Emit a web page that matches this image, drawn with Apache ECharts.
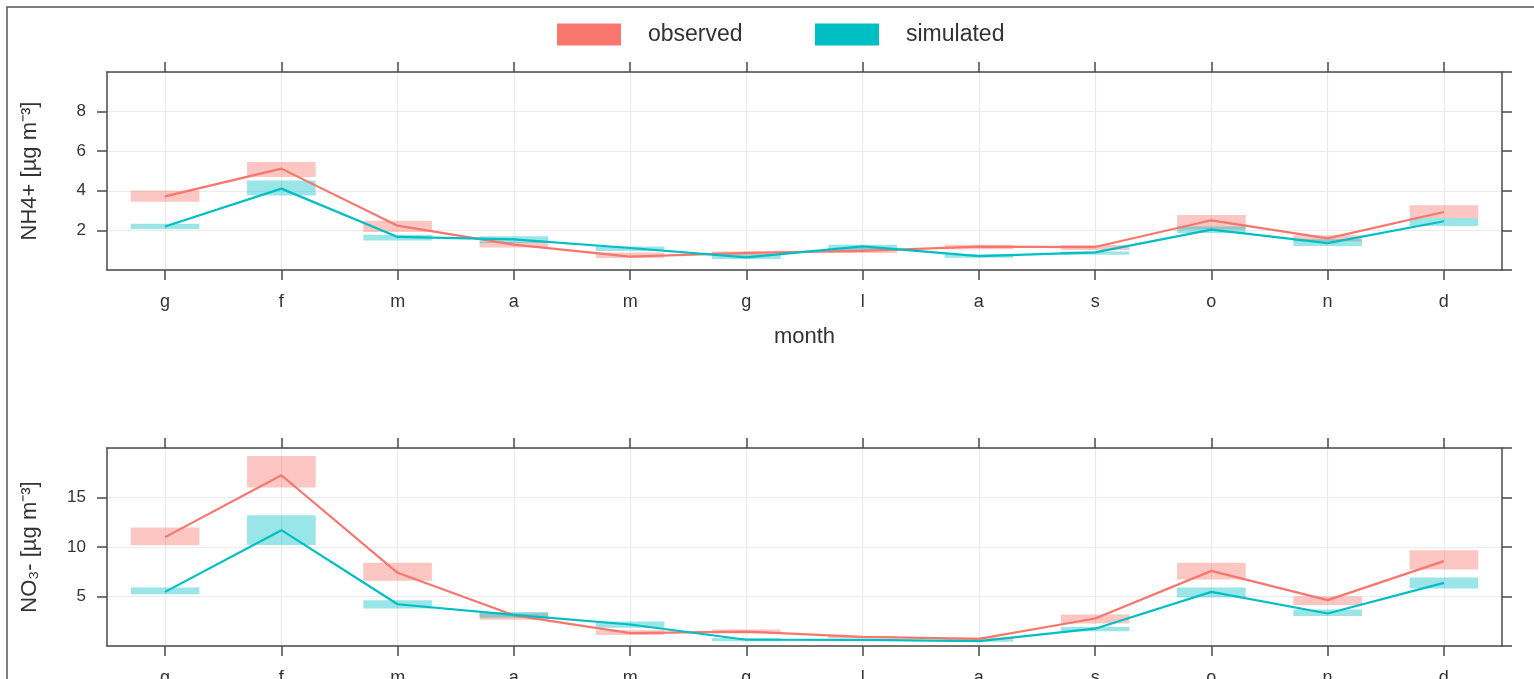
<!DOCTYPE html>
<html>
<head>
<meta charset="utf-8">
<script src="https://cdn.jsdelivr.net/npm/echarts@6/dist/echarts.min.js"></script>
<style>
html, body { margin: 0; padding: 0; background: #fff; }
#chart { width: 1534px; height: 679px; }
</style>
</head>
<body>
<div id="chart"></div>
<script>
var months = ['g', 'f', 'm', 'a', 'm', 'g', 'l', 'a', 's', 'o', 'n', 'd'];

// NH4+ panel
var nh4Obs     = [3.72, 5.12, 2.24, 1.28, 0.68, 0.86, 0.97, 1.18, 1.16, 2.51, 1.60, 2.93];
var nh4ObsLow  = [3.45, 4.70, 1.92, 1.14, 0.60, 0.73, 0.86, 1.05, 1.01, 2.04, 1.45, 2.63];
var nh4ObsHigh = [4.01, 5.46, 2.49, 1.42, 0.88, 0.94, 1.11, 1.28, 1.26, 2.78, 1.75, 3.27];
var nh4Sim     = [2.20, 4.11, 1.67, 1.55, 1.11, 0.64, 1.19, 0.70, 0.89, 2.04, 1.36, 2.46];
var nh4SimLow  = [2.07, 3.76, 1.49, 1.36, 0.96, 0.56, 0.96, 0.62, 0.77, 1.87, 1.21, 2.22];
var nh4SimHigh = [2.34, 4.52, 1.78, 1.70, 1.19, 0.80, 1.28, 0.80, 0.94, 2.20, 1.55, 2.62];

// NO3- panel
var no3Obs     = [11.0, 17.25, 7.39, 3.10, 1.30, 1.45, 0.92, 0.72, 2.78, 7.59, 4.63, 8.57];
var no3ObsLow  = [10.18, 16.0, 6.58, 2.65, 1.12, 1.26, 0.80, 0.60, 2.27, 6.72, 4.12, 7.73];
var no3ObsHigh = [11.97, 19.2, 8.40, 3.30, 1.60, 1.67, 1.02, 0.85, 3.18, 8.40, 5.03, 9.68];
var no3Sim     = [5.47, 11.7, 4.22, 3.15, 2.17, 0.63, 0.62, 0.50, 1.75, 5.47, 3.28, 6.37];
var no3SimLow  = [5.23, 10.2, 3.79, 2.85, 1.85, 0.48, 0.50, 0.42, 1.50, 4.90, 3.04, 5.81];
var no3SimHigh = [5.90, 13.2, 4.63, 3.44, 2.48, 0.80, 0.72, 0.60, 1.93, 5.90, 3.69, 6.92];

var red = '#F8766D', cyan = '#00BFC4';
var redFill = 'rgba(248,118,109,0.42)', cyanFill = 'rgba(0,191,196,0.4)';
var axisCol = '#4a4a4a', textCol = '#333', gridCol = '#ebebeb';
var font = 'Liberation Sans';

var dom = document.getElementById('chart');
var chart = echarts.init(dom);

function ranges(low, high) {
    return months.map(function (m, i) { return [i, low[i], high[i]]; });
}

function rangeBox(fill) {
    return function (params, api) {
        var top = api.coord([api.value(0), api.value(2)]);
        var bot = api.coord([api.value(0), api.value(1)]);
        var w = api.size([1, 0])[0] * 0.59;
        return {
            type: 'rect',
            shape: { x: top[0] - w / 2, y: top[1], width: w, height: bot[1] - top[1] },
            style: { fill: fill }
        };
    };
}

function xAx(grid, pos, labels, name) {
    return {
        type: 'category', gridIndex: grid, position: pos, data: months,
        boundaryGap: true,
        name: name || '', nameLocation: 'middle', nameGap: 56,
        nameTextStyle: { fontSize: 22, color: textCol, fontFamily: font },
        axisLine: { onZero: false, lineStyle: { color: axisCol, width: 1.5 } },
        axisTick: { show: true, alignWithLabel: true, length: 10, lineStyle: { color: axisCol, width: 1.5 } },
        axisLabel: { show: labels, color: textCol, fontSize: 18, fontFamily: font, margin: 23 },
        splitLine: { show: pos === 'bottom', alignWithLabel: true, lineStyle: { color: gridCol, width: 1.2 } }
    };
}

function yAx(grid, pos, max, step, labels, name) {
    return {
        type: 'value', gridIndex: grid, position: pos, min: 0, max: max, interval: step,
        name: name || '', nameLocation: 'middle', nameGap: 66,
        nameTextStyle: { fontSize: 22, color: textCol, fontFamily: font },
        axisLine: { show: true, onZero: false, lineStyle: { color: axisCol, width: 1.5 } },
        axisTick: { show: true, length: 10, lineStyle: { color: axisCol, width: 1.5 } },
        axisLabel: { show: labels, showMinLabel: false, showMaxLabel: false, color: textCol, fontSize: 17, fontFamily: font, margin: 21 },
        splitLine: { show: pos === 'left', lineStyle: { color: gridCol, width: 1.2 } }
    };
}

option = {
    animation: false,
    backgroundColor: '#fff',
    graphic: [{
        type: 'rect', silent: true,
        shape: { x: 7, y: 7, width: 1600, height: 720 },
        style: { fill: null, stroke: '#555', lineWidth: 1.5 }
    }],
    legend: [{
        left: 557, top: 23, padding: 0, itemWidth: 64, itemHeight: 22,
        data: [{ name: 'observed', icon: 'rect', itemStyle: { color: red } }],
        textStyle: { fontSize: 23, color: textCol, fontFamily: font, padding: [0, 0, 0, 22] },
        selectedMode: false
    }, {
        left: 815, top: 23, padding: 0, itemWidth: 64, itemHeight: 22,
        data: [{ name: 'simulated', icon: 'rect', itemStyle: { color: cyan } }],
        textStyle: { fontSize: 23, color: textCol, fontFamily: font, padding: [0, 0, 0, 22] },
        selectedMode: false
    }],
    grid: [
        { left: 107, right: 32, top: 72, height: 198, outerBoundsMode: 'none' },
        { left: 107, right: 32, top: 448, height: 198, outerBoundsMode: 'none' }
    ],
    xAxis: [
        xAx(0, 'bottom', true, 'month'),
        xAx(0, 'top', false),
        xAx(1, 'bottom', true),
        xAx(1, 'top', false)
    ],
    yAxis: [
        yAx(0, 'left', 10, 2, true, 'NH4+ [µg m⁻³]'),
        yAx(0, 'right', 10, 2, false),
        yAx(1, 'left', 20, 5, true, 'NO₃- [µg m⁻³]'),
        yAx(1, 'right', 20, 5, false)
    ],
    series: [
        { name: 'observed', type: 'custom', xAxisIndex: 0, yAxisIndex: 0, renderItem: rangeBox(redFill), encode: { x: 0, y: [1, 2] }, data: ranges(nh4ObsLow, nh4ObsHigh), silent: true },
        { name: 'simulated', type: 'custom', xAxisIndex: 0, yAxisIndex: 0, renderItem: rangeBox(cyanFill), encode: { x: 0, y: [1, 2] }, data: ranges(nh4SimLow, nh4SimHigh), silent: true },
        { name: 'observed', type: 'line', xAxisIndex: 0, yAxisIndex: 0, data: nh4Obs, showSymbol: false, itemStyle: { color: red }, lineStyle: { color: red, width: 2.2 }, silent: true },
        { name: 'simulated', type: 'line', xAxisIndex: 0, yAxisIndex: 0, data: nh4Sim, showSymbol: false, itemStyle: { color: cyan }, lineStyle: { color: cyan, width: 2.2 }, silent: true },

        { name: 'observed', type: 'custom', xAxisIndex: 2, yAxisIndex: 2, renderItem: rangeBox(redFill), encode: { x: 0, y: [1, 2] }, data: ranges(no3ObsLow, no3ObsHigh), silent: true },
        { name: 'simulated', type: 'custom', xAxisIndex: 2, yAxisIndex: 2, renderItem: rangeBox(cyanFill), encode: { x: 0, y: [1, 2] }, data: ranges(no3SimLow, no3SimHigh), silent: true },
        { name: 'observed', type: 'line', xAxisIndex: 2, yAxisIndex: 2, data: no3Obs, showSymbol: false, itemStyle: { color: red }, lineStyle: { color: red, width: 2.2 }, silent: true },
        { name: 'simulated', type: 'line', xAxisIndex: 2, yAxisIndex: 2, data: no3Sim, showSymbol: false, itemStyle: { color: cyan }, lineStyle: { color: cyan, width: 2.2 }, silent: true }
    ]
};

chart.setOption(option, true);
</script>
</body>
</html>
